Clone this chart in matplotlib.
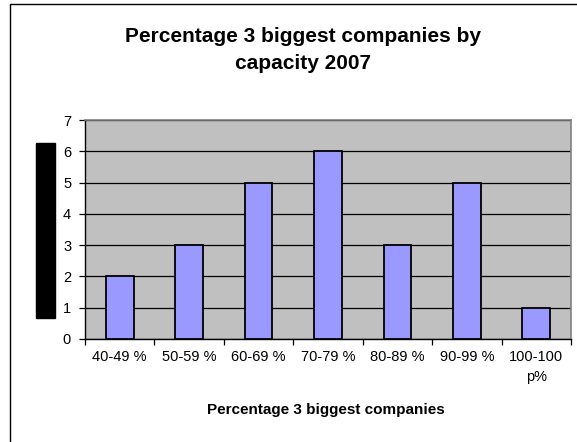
import numpy as np
import matplotlib
matplotlib.use('Agg')
from matplotlib import pyplot as plt
from matplotlib.patches import Rectangle

plt.rcParams['font.family'] = ['Liberation Sans', 'DejaVu Sans']

# share of capacity held by the 3 biggest companies, number of countries per bin
categories = ['40-49 %', '50-59 %', '60-69 %', '70-79 %', '80-89 %', '90-99 %', '100-100\np%']
counts = [2, 3, 5, 6, 3, 5, 1]
yticks = [0, 1, 2, 3, 4, 5, 6, 7]

W, H = 577, 442
fig = plt.figure(figsize=(W / 100, H / 100), dpi=100)
fig.patch.set_facecolor('white')

# chart frame, left and top edges show
fig.patches.append(Rectangle((10 / W, -0.1), 1.2, 1 - 4 / H + 0.1, transform=fig.transFigure,
                             fill=False, edgecolor='black', linewidth=1.0))

ax = fig.add_axes([85 / W, 1 - 339 / H, (571 - 85) / W, (339 - 120) / H])
ax.set_facecolor('#C0C0C0')

x = np.arange(len(categories))
ax.set_axisbelow(True)
ax.yaxis.grid(True, color='black', linewidth=0.9)
ax.bar(x, counts, width=0.4, color='#9999FF', edgecolor='black', linewidth=1.3, zorder=3)

ax.set_xlim(-0.5, len(categories) - 0.5)
ax.set_ylim(0, 7)
ax.set_yticks(yticks)
ax.set_xticks(x)
ax.set_xticklabels(categories, fontsize=10.5, linespacing=1.5)
ax.set_xticks(np.arange(-0.5, len(categories)), minor=True)
ax.tick_params(axis='x', which='major', length=0, pad=8)
ax.tick_params(axis='x', which='minor', length=4, direction='out', width=0.9)
ax.tick_params(axis='y', length=4, direction='out', width=0.9, labelsize=10.5, pad=6)

for side in ('top', 'right'):
    ax.spines[side].set_color('#808080')
    ax.spines[side].set_linewidth(1.2)
for side in ('left', 'bottom'):
    ax.spines[side].set_color('black')
    ax.spines[side].set_linewidth(1.0)

fig.text(303 / W, 1 - 50 / H, 'Percentage 3 biggest companies by\ncapacity 2007',
         ha='center', va='center', fontsize=15, fontweight='bold', linespacing=1.55)
fig.text(326 / W, 1 - 410 / H, 'Percentage 3 biggest companies',
         ha='center', va='center', fontsize=11, fontweight='bold')

# y axis title block
fig.patches.append(Rectangle((36 / W, 1 - 318 / H), 19 / W, 175 / H,
                             transform=fig.transFigure, color='black'))

fig.savefig('out.png', dpi=100)
